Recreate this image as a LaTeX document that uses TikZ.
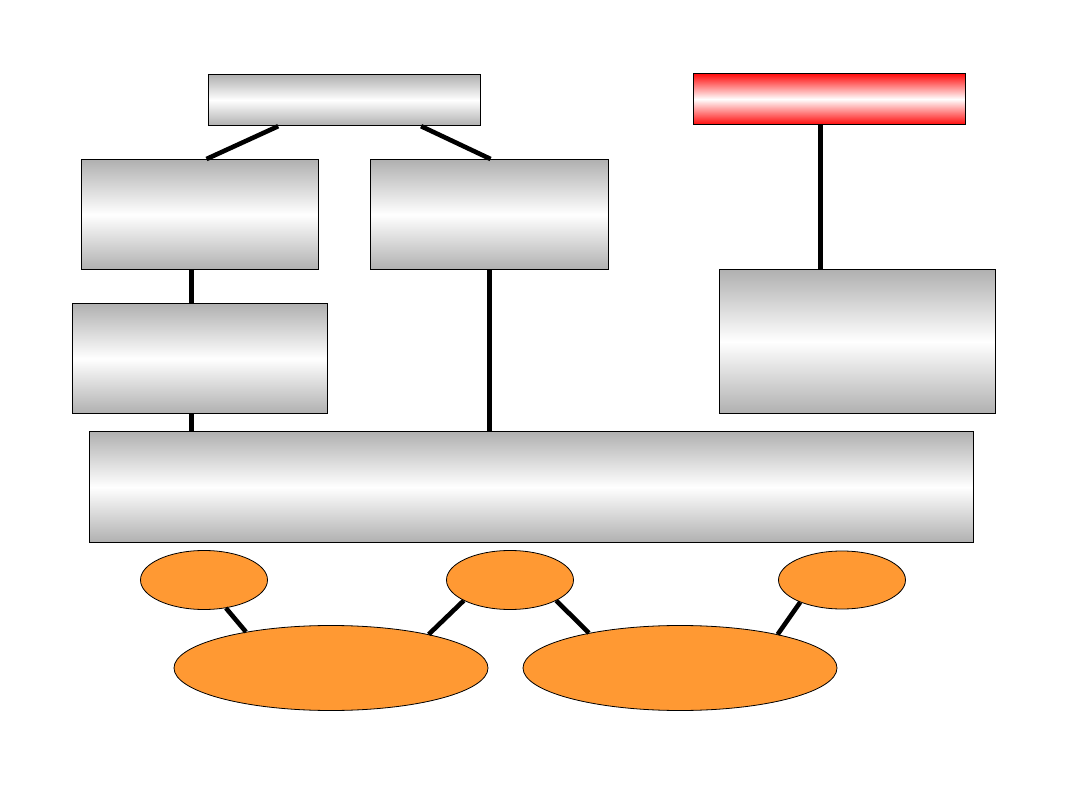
\documentclass[tikz,border=0pt]{standalone}
\usetikzlibrary{calc,shapes.geometric}
\definecolor{bgray}{RGB}{176,176,176}
\definecolor{bred}{RGB}{255,10,10}
\definecolor{borange}{RGB}{255,153,51}
\begin{document}
\begin{tikzpicture}[x=1pt,y=-1pt,
  graybox/.style={draw=black,line width=1.2pt,rectangle,inner sep=0pt,anchor=north west,
    top color=bgray,bottom color=bgray,middle color=white},
  redbox/.style={draw=black,line width=1.2pt,rectangle,inner sep=0pt,anchor=north west,
    top color=bred,bottom color=bred,middle color=white},
  oval/.style={draw=black,line width=0.8pt,ellipse,inner sep=0pt,fill=borange},
  link/.style={line width=4.6pt,line cap=butt}]
\useasboundingbox (0,0) rectangle (1080,810);
\fill[white] (0,0) rectangle (1080,810);
% boxes
\node[graybox,minimum width=272pt,minimum height=51pt] (top) at (208,74) {};
\node[redbox,minimum width=272pt,minimum height=51pt] (red) at (693,73) {};
\node[graybox,minimum width=237pt,minimum height=110pt] (A) at (81,159) {};
\node[graybox,minimum width=238pt,minimum height=110pt] (B) at (370,159) {};
\node[graybox,minimum width=255pt,minimum height=110pt] (C) at (72,303) {};
\node[graybox,minimum width=276pt,minimum height=144pt] (D) at (719,269) {};
\node[graybox,minimum width=884pt,minimum height=111pt] (big) at (89,431) {};
% ellipses
\node[oval,minimum width=127pt,minimum height=59pt] (e1) at (204,580) {};
\node[oval,minimum width=127pt,minimum height=59pt] (e2) at (510,580) {};
\node[oval,minimum width=127pt,minimum height=58pt] (e3) at (842,580) {};
\node[oval,minimum width=314pt,minimum height=85pt] (E4) at (331,668) {};
\node[oval,minimum width=314pt,minimum height=85pt] (E5) at (680,668) {};
% connection points
\coordinate (pA) at ($(A.south west)!0.464!(A.south east)$);
\coordinate (pB) at ($(B.south west)!0.500!(B.south east)$);
\coordinate (pR) at ($(red.south west)!0.467!(red.south east)$);
% connectors
\draw[link] ($(top.south west)!0.257!(top.south east)$) -- ($(A.north west)!0.527!(A.north east)$);
\draw[link] ($(top.south west)!0.78!(top.south east)$) -- ($(B.north west)!0.504!(B.north east)$);
\draw[link] (pR) -- (pR |- D.north);
\draw[link] (pA) -- (pA |- C.north);
\draw[link] (pA |- C.south) -- (pA |- big.north);
\draw[link] (pB) -- (pB |- big.north);
\draw[link] (e1.-52) -- (E4.157);
\draw[link] (e2.204) -- (E4.19);
\draw[link] (e2.-24) -- (E5.159);
\draw[link] (e3.208) -- (E5.19);
\end{tikzpicture}
\end{document}
